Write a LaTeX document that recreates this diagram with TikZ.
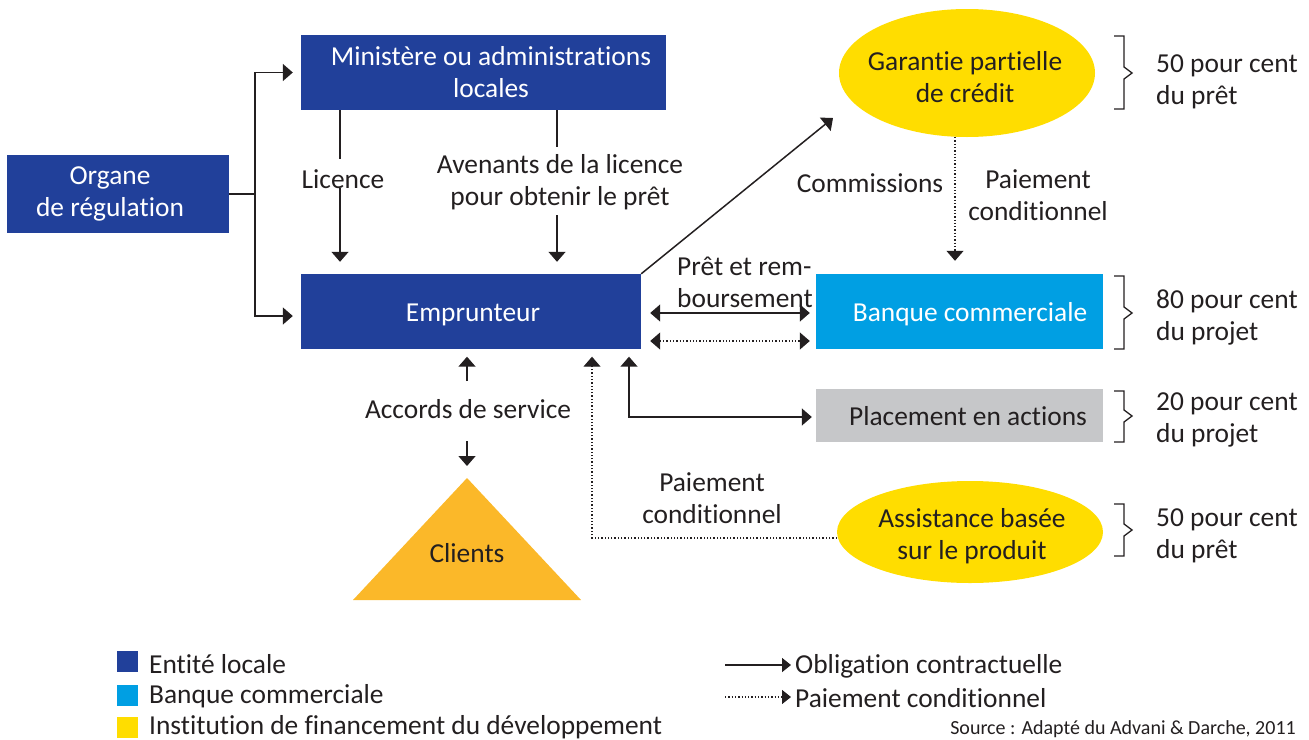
\documentclass[tikz,border=0pt]{standalone}
\usepackage{fontspec}
\setmainfont{Carlito}[Ligatures={NoCommon}]
\usetikzlibrary{arrows.meta,shapes.geometric,calc}
\definecolor{dblue}{HTML}{21409A}
\definecolor{lblue}{HTML}{009FE3}
\definecolor{lgrey}{HTML}{C6C7C9}
\definecolor{yel}{HTML}{FFDD00}
\definecolor{orng}{HTML}{FBB829}
\definecolor{txt}{HTML}{231F20}
\begin{document}
\begin{tikzpicture}[x=1pt,y=-1pt,
  every node/.style={font=\fontsize{27.4}{32}\selectfont, text=txt, inner sep=0pt, align=center},
  box/.style={rectangle, text=white},
  onel/.style={text height=20pt, text depth=0pt},
  tip/.tip={Triangle[length=10pt,width=17pt]},
  arr/.style={-tip, line width=1.5pt, draw=txt},
  darr/.style={tip-tip, line width=1.5pt, draw=txt},
  ln/.style={line width=1.5pt, draw=txt},
  dotarr/.style={-tip, dotted, line width=1.3pt, draw=txt},
  ddotarr/.style={tip-tip, dotted, line width=1.3pt, draw=txt},
  bracestyle/.style={line width=1.3pt, draw=txt},
  lgarr/.style={-{Triangle[length=9pt,width=14pt]}, line width=1.5pt, draw=txt},
  lgdot/.style={-{Triangle[length=9pt,width=14pt]}, dotted, line width=1.3pt, draw=txt},
]
\useasboundingbox (0,0) rectangle (1309,739);

% main boxes
\node[box, fill=dblue, minimum width=222pt, minimum height=78pt] (org) at (118,194)
  {Organe\hbox to 16pt{}\\de régulation\hbox to 16pt{}};
\node[box, fill=dblue, minimum width=365pt, minimum height=75pt] (min) at (483.5,72.5)
  {\hbox to 15pt{}Ministère ou administrations\\\hbox to 15pt{}locales};
\node[box, onel, fill=dblue, minimum width=340pt, minimum height=75pt] (emp) at (471,311.5)
  {\hbox to 4pt{}Emprunteur};
\node[box, onel, fill=lblue, minimum width=287pt, minimum height=75pt] (bq) at (959.5,311.5)
  {\hbox to 21pt{}Banque commerciale};
\node[box, onel, fill=lgrey, text=txt, minimum width=287pt, minimum height=53pt] (pl) at (959.5,415.5)
  {\hbox to 17pt{}Placement en actions};

% ellipses
\node[ellipse, fill=yel, minimum width=256pt, minimum height=128pt] (gar) at (967,73) {};
\node (gart) at (965,77) {Garantie partielle\\de crédit};
\node[ellipse, fill=yel, minimum width=266pt, minimum height=102pt] (ast) at (970,532) {};
\node (astt) at (972,536) {Assistance basée\\sur le produit};

% clients triangle
\coordinate (cliapex) at (467,478);
\fill[orng] (cliapex) -- (581,600) -- (353,600) -- cycle;
\node (cli) at (467,553) {Clients};

% organe connectors
\coordinate (orgj) at (255,194);
\draw[ln] (org.east) -- (orgj);
\draw[arr, shorten >=8pt] (orgj) |- (min.west);
\draw[arr, shorten >=8pt] (orgj) |- ([yshift=-4.5pt]emp.west);

% licence
\node (lic) at (343,179) {Licence};
\coordinate (licA) at (340,159);
\coordinate (licB) at (340,188);
\draw[ln] (min.south -| licA) -- (licA);
\draw[arr, shorten >=12pt] (licB) -- (licB |- emp.north);

% avenants
\node (ave) at (560,182) {Avenants de la licence\\pour obtenir le prêt};
\coordinate (aveA) at (557,147);
\coordinate (aveB) at (557,215);
\draw[ln] (min.south -| aveA) -- (aveA);
\draw[arr, shorten >=12pt] (aveB) -- (aveB |- emp.north);

% commissions
\coordinate (gartip) at (833,118);
\draw[arr] (emp.north east) -- (gartip);
\node (com) at (870,183) {Commissions};
\node (pc1) at (1038,195) {Paiement\\conditionnel};
\coordinate (garb) at (955,137);
\draw[dotarr, shorten >=13pt] (garb) -- (garb |- bq.north);

% pret
\node[anchor=west, align=left] (pret) at (677,282) {Prêt et rem-\\boursement};
\draw[darr, shorten <=9pt, shorten >=6pt] ([yshift=-1.5pt]emp.east) -- ([yshift=-1.5pt]bq.west);
\draw[ddotarr, shorten <=9pt, shorten >=6pt] ([yshift=-29.5pt]emp.east) -- ([yshift=-29.5pt]bq.west);

% placement
\coordinate (plx) at (629,417);
\draw[darr, shorten <=7.5pt, shorten >=4pt] (emp.south -| plx) |- ([yshift=-1.5pt]pl.west);

% assistance dotted
\coordinate (dpx) at (592,538);
\draw[dotarr, shorten >=7.5pt] ([yshift=-6pt]ast.west) -| (emp.south -| dpx);
\node (pc2) at (712,498) {Paiement\\conditionnel};

% accords
\node (acc) at (468,409) {Accords de service};
\coordinate (accA) at (467,381);
\coordinate (accB) at (467,441);
\draw[arr, shorten >=7.5pt] (accA) -- (accA |- emp.south);
\draw[arr, shorten >=12pt] (accB) -- (cliapex);

% braces
\newcommand\mybrace[3]{\draw[bracestyle] (1114,#1) -- (1124,#1) -- (1124,{#2-6}) -- (1132,#2) -- (1124,{#2+6}) -- (1124,#3) -- (1114,#3);}
\mybrace{36}{73}{109}
\mybrace{276}{313}{349}
\mybrace{391}{416}{442}
\mybrace{504}{530}{556}
\node[anchor=west, align=left] (b1) at (1156,82) {50 pour cent\\du prêt};
\node[anchor=west, align=left] (b2) at (1156,317) {80 pour cent\\du projet};
\node[anchor=west, align=left] (b3) at (1156,420) {20 pour cent\\du projet};
\node[anchor=west, align=left] (b4) at (1156,536) {50 pour cent\\du prêt};

% legend
\node[fill=dblue, minimum width=21pt, minimum height=21pt] (lg1) at (127.5,661.5) {};
\node[fill=lblue, minimum width=21pt, minimum height=21pt] (lg2) at (127.5,695.5) {};
\node[fill=yel, minimum width=21pt, minimum height=21pt] (lg3) at (127.5,727.5) {};
\node[anchor=west] (lt1) at (149,664) {Entité locale};
\node[anchor=west] (lt2) at (149,696) {Banque commerciale};
\node[anchor=west] (lt3) at (149,727) {Institution de financement du développement};

\coordinate (la1) at (725,665);
\coordinate (la2) at (725,697);
\node[anchor=west] (lr1) at (795,666) {Obligation contractuelle};
\node[anchor=west] (lr2) at (795,698) {Paiement conditionnel};
\draw[lgarr, shorten >=4pt] (la1) -- (lr1.west |- la1);
\draw[lgdot, shorten >=4pt] (la2) -- (lr2.west |- la2);

\node[anchor=east, font=\fontsize{20}{22}\selectfont] (src) at (1296,729) {Source : Adapté du Advani \& Darche, 2011};
\end{tikzpicture}
\end{document}
